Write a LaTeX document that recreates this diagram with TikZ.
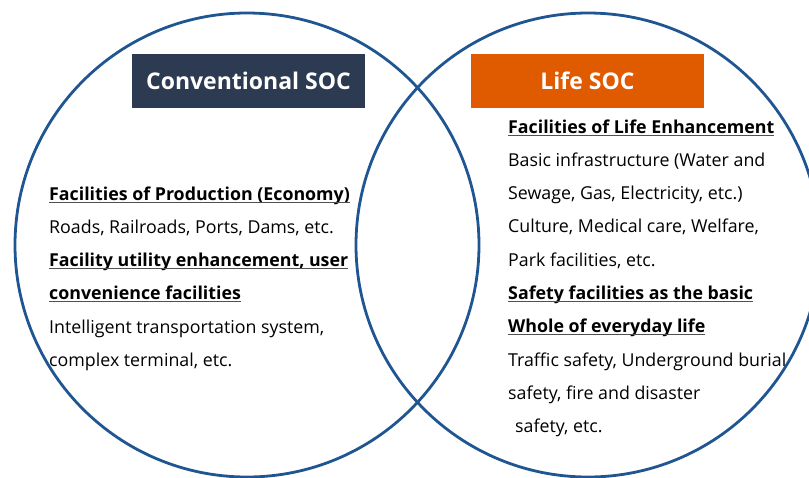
\documentclass[tikz,border=0pt]{standalone}
\usepackage{fontspec}
\setmainfont{Open Sans}
\usepackage{tikz}
\usetikzlibrary{positioning}
\usepackage{xcolor}

\definecolor{ringblue}{RGB}{31,86,146}
\definecolor{convnavy}{RGB}{44,58,82}
\definecolor{lifeorange}{RGB}{224,90,0}
\definecolor{ulgray}{RGB}{80,80,80}

\tikzset{
    ring/.style={circle, draw=ringblue, line width=2.8pt, minimum size=464pt, inner sep=0pt},
    headbox/.style={minimum width=233pt, minimum height=54pt, inner sep=0pt, text=white,
        font=\fontsize{23}{23}\selectfont\bfseries},
    txtline/.style={anchor=base west, inner sep=0pt, font=\fontsize{17.8}{17.8}\selectfont},
    txthead/.style={txtline, font=\fontsize{17.8}{17.8}\selectfont\bfseries},
    uline/.style={draw=ulgray, line width=0.9pt}
}

\begin{document}
\begin{tikzpicture}[x=1pt, y=-1pt]

\useasboundingbox (0,0) rectangle (809,477);
\clip (0,0) rectangle (809,477);

% Circles
\node[ring] (conv) at (247,245) {};
\node[ring] (life) at (588,245) {};

% Titles
\node[headbox, fill=convnavy] (convhead) at (248.5,81) {Conventional SOC};
\node[headbox, fill=lifeorange] (lifehead) at (587.5,81) {Life SOC};

% Conventional SOC items
\node[txthead] (c1) at (49,200) {Facilities of Production (Economy)};
\node[txtline] (c2) at (49,233) {Roads, Railroads, Ports, Dams, etc.};
\node[txthead] (c3) at (49,266) {Facility utility enhancement, user};
\node[txthead] (c4) at (49,299) {convenience facilities};
\node[txtline] (c5) at (49,333) {Intelligent transportation system,};
\node[txtline] (c6) at (49,366) {complex terminal, etc.};

% Life SOC items
\node[txthead] (l1) at (508,133) {Facilities of Life Enhancement};
\node[txtline] (l2) at (508,166) {Basic infrastructure (Water and};
\node[txtline] (l3) at (508,199) {Sewage, Gas, Electricity, etc.)};
\node[txtline] (l4) at (508,232) {Culture, Medical care, Welfare,};
\node[txtline] (l5) at (508,266) {Park facilities, etc.};
\node[txthead] (l6) at (508,299) {Safety facilities as the basic};
\node[txthead] (l7) at (508,332) {Whole of everyday life};
\node[txtline] (l8) at (508,366) {Traffic safety, Underground burial};
\node[txtline] (l9) at (508,399) {safety, fire and disaster};
\node[txtline] (l10) at (515,432) {safety, etc.};

% Underlines of the bold items
\foreach \n in {c1,c3,c4,l1,l6,l7}
    \draw[uline] ([yshift=-2.5pt]\n.base west) -- ([yshift=-2.5pt]\n.base east);

\end{tikzpicture}
\end{document}
